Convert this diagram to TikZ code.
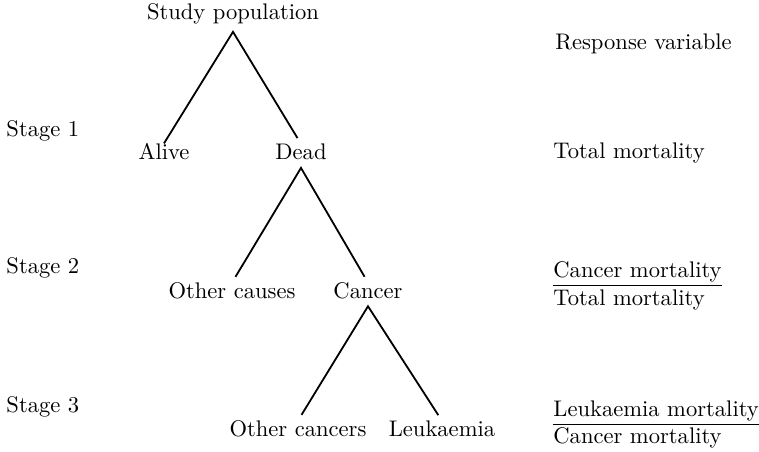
\documentclass[tikz,border=0pt]{standalone}
\begin{document}
\begin{tikzpicture}[x=0.443pt,y=-0.443pt,
  lbl/.style={inner sep=0pt,anchor=base},
  lblw/.style={inner sep=0pt,anchor=base west},
  branch/.style={line width=0.8pt,line join=miter,shorten >=3pt},
  fracrule/.style={line width=0.45pt}]
\useasboundingbox (0,0) rectangle (759,452);
% tree nodes
\node[lbl] (sp) at (233,20) {Study population};
\node[lbl] (alive) at (164,160) {Alive};
\node[lbl] (dead) at (301,160) {Dead};
\node[lbl] (oc) at (232,299) {Other causes};
\node[lbl] (cancer) at (368,299) {Cancer};
\node[lbl] (ocan) at (298,437) {Other cancers};
\node[lbl] (leuk) at (442,437) {Leukaemia};
% apex points of the branches
\coordinate (a1) at ([yshift=-3pt]sp.south);
\coordinate (a2) at ([yshift=-3.2pt]dead.south);
\coordinate (a3) at ([yshift=-2.8pt]cancer.south);
% branches
\draw[branch] (alive.north) -- (a1) -- (dead.north);
\draw[branch,shorten <=3pt] (oc.north) -- (a2) -- (cancer.north);
\draw[branch,shorten <=3pt] (ocan.north) -- (a3) -- (leuk.north);
% stage labels
\node[lblw] (s1) at (6,137) {Stage 1};
\node[lblw] (s2) at (6,274) {Stage 2};
\node[lblw] (s3) at (6,413) {Stage 3};
% response variables
\node[lblw] (rv) at (555,50) {Response variable};
\node[lblw] (tm) at (553,159) {Total mortality};
\node[lblw] (n2) at (553,278) {Cancer mortality};
\node[lblw] (d2) at (553,306) {Total mortality};
\draw[fracrule] ([yshift=-1.2pt]n2.south west) -- ([yshift=-1.2pt]n2.south east);
\node[lblw] (n3) at (553,417) {Leukaemia mortality};
\node[lblw] (d3) at (553,444) {Cancer mortality};
\draw[fracrule] ([yshift=-1.2pt]n3.south west) -- ([yshift=-1.2pt]n3.south east);
\end{tikzpicture}
\end{document}
